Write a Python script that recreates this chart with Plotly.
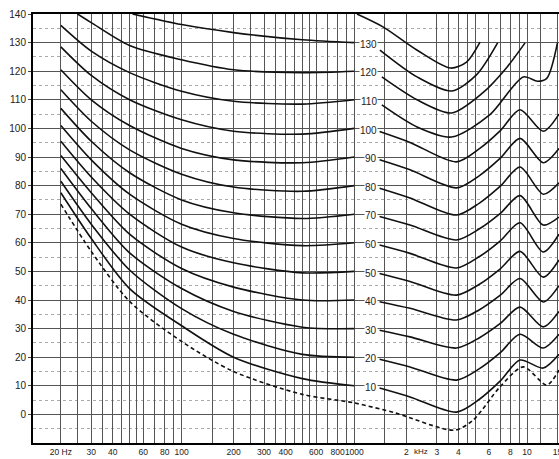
import math
import plotly.graph_objects as go

# ---------------- data ----------------
FREQ_LEFT = [20, 30, 50, 100, 200, 500, 1000]
LEFT = {
    110: [136, 127, 119.5, 113, 109.5, 108.5, 110],
    100: [128.5, 118.5, 110, 103, 99, 98, 100],
    90: [120.5, 110, 101, 93, 89, 88, 90],
    80: [113.5, 102.5, 92.5, 84, 79.5, 78, 80],
    70: [107, 95.5, 84.5, 75, 70.5, 68.5, 70],
    60: [101, 89, 77, 66.5, 61.5, 59, 60],
    50: [95.5, 83, 70, 58.5, 53, 49.5, 50],
    40: [90.5, 77.5, 63, 51, 44.5, 40, 40],
    30: [86, 72, 56.5, 44, 36, 30.5, 30],
    20: [81.5, 66.5, 50.5, 37, 28, 21, 20],
    10: [77.5, 61.5, 44, 31, 20, 12.5, 10],
}
FREQ_LEFT_120 = [25, 30, 50, 100, 200, 500, 1000]
LEFT_120 = [140, 137, 129, 124, 120.5, 119.5, 120]
FREQ_LEFT_130 = [52, 100, 200, 500, 1000]
LEFT_130 = [140, 136.3, 133.5, 131, 130]

FREQ_RIGHT = [1400, 2100, 3900, 5300, 7000, 9100, 12400, 15300]
RIGHT = {
    100: [98.9, 95.1, 88.3, 92.9, 99.2, 106.5, 99, 105],
    90: [89, 85.5, 79.2, 83.5, 89.6, 96.5, 88, 93],
    80: [79.1, 75.7, 69.7, 73.9, 79.8, 86.5, 77, 81],
    70: [69.2, 66.2, 61, 64.9, 70.3, 76.5, 66.2, 69],
    60: [59.2, 56.3, 51.2, 55.2, 60.7, 67, 56.8, 63],
    50: [49.3, 46.5, 41.7, 45.5, 50.9, 57, 48, 54],
    40: [39.4, 37.1, 33, 36.6, 41.7, 47.5, 39.3, 45],
    30: [29.4, 27.1, 23.2, 26.8, 31.8, 37.5, 30.6, 36],
    20: [19.3, 16.6, 12, 16, 21.6, 28, 23.2, 28],
    10: [9.2, 6.1, 0.8, 5.3, 11.7, 19, 16.2, 21],
}
FREQ_RIGHT_110 = [1443, 2307, 3657, 6070, 9500, 11500, 13000, 15000]
RIGHT_110 = [108.2, 100.5, 97, 104.7, 118, 116.5, 117.5, 130]
FREQ_RIGHT_120 = [1443, 2307, 3657, 5530, 7670, 9730]
RIGHT_120 = [118, 110, 105.4, 112.4, 121.5, 129.9]
FREQ_RIGHT_130 = [1406, 2307, 3657, 5090, 6750]
RIGHT_130 = [127.4, 118, 113.1, 118.7, 129.9]
FREQ_140 = [1036, 1465, 2300, 3600, 4460, 5340]
DB_140 = [140, 135.5, 127.4, 121.1, 123.2, 130.2]

FREQ_THRESH = [20, 30, 50, 100, 200, 500, 1000, 1730, 3800, 4870, 6965, 9500, 13000, 15300]
DB_THRESH = [73.5, 57, 39.5, 25.5, 15, 7, 4, 0.5, -5.5, -2, 9.6, 16.6, 10.3, 15.5]

PHON_LABELS = [130, 120, 110, 100, 90, 80, 70, 60, 50, 40, 30, 20, 10]

GRID_FREQS = [20, 25, 30, 35, 40, 45, 50, 55, 60, 70, 80, 90, 100,
              150, 200, 250, 300, 350, 400, 450, 500, 550, 600, 700, 800, 900, 1000,
              1500, 2000, 3000, 3500, 4000, 4500, 5000, 6000, 7000, 8000, 9000, 10000, 12000]
TICK_LABELS = {20: "20 Hz", 30: "30", 40: "40", 60: "60", 80: "80", 100: "100",
               200: "200", 300: "300", 400: "400", 600: "600", 800: "800", 1000: "1000",
               2000: "2", 3000: "3", 4000: "4", 6000: "6", 8000: "8", 10000: "10", 15000: "15"}

# ---------------- figure ----------------
fig = go.Figure()
LINE = dict(color="#111111", width=1.6, shape="spline", smoothing=0.8)


def add(xs, ys, dash=None):
    ln = dict(LINE)
    if dash:
        ln["dash"] = dash
    fig.add_trace(go.Scatter(x=xs, y=ys, mode="lines", line=ln,
                             hoverinfo="skip", showlegend=False))


for p, vals in LEFT.items():
    add(FREQ_LEFT, vals)
add(FREQ_LEFT_120, LEFT_120)
add(FREQ_LEFT_130, LEFT_130)
for p, vals in RIGHT.items():
    add(FREQ_RIGHT, vals)
add(FREQ_RIGHT_110, RIGHT_110)
add(FREQ_RIGHT_120, RIGHT_120)
add(FREQ_RIGHT_130, RIGHT_130)
add(FREQ_140, DB_140)
add(FREQ_THRESH, DB_THRESH, dash="4px,3px")

FONT = "Liberation Sans, Arial, sans-serif"
for p in PHON_LABELS:
    fig.add_annotation(x=math.log10(1370), y=p - 0.6, text=str(p), showarrow=False,
                       xanchor="right", yanchor="middle",
                       font=dict(family=FONT, size=10, color="#222"),
                       bgcolor="white", borderpad=0)

fig.add_annotation(x=math.log10(2430), y=0, yref="paper", yanchor="top", yshift=-2,
                   text="kHz", showarrow=False,
                   font=dict(family=FONT, size=8, color="#222"))

tickvals = sorted(set(GRID_FREQS) | set(TICK_LABELS))
ticktext = [TICK_LABELS.get(v, "") for v in tickvals]

fig.update_layout(
    width=559, height=459,
    margin=dict(l=33, r=0, t=14, b=16),
    paper_bgcolor="white", plot_bgcolor="white",
    font=dict(family=FONT, color="#222"),
    xaxis=dict(type="log", range=[math.log10(13.8), math.log10(15300)],
               tickvals=tickvals, ticktext=ticktext, ticks="", tickangle=0,
               tickfont=dict(size=8.5, color="#222"), automargin=False,
               ticklabeloverflow="allow",
               showgrid=True, gridcolor="#555", gridwidth=1,
               showline=True, linecolor="black", linewidth=2, mirror=True,
               zeroline=False),
    yaxis=dict(range=[-10, 140], tickvals=list(range(0, 141, 10)),
               ticks="outside", ticklen=3, tickcolor="#444", automargin=False,
               tickfont=dict(size=10, color="#222"),
               showgrid=True, gridcolor="#555", gridwidth=1,
               minor=dict(dtick=5, showgrid=True, gridcolor="#aaa", griddash="dot"),
               showline=True, linecolor="black", linewidth=2,
               zeroline=False),
)

fig.write_html("out.html", config={"displayModeBar": False},
               post_script="document.body.style.margin='0';document.body.style.overflow='hidden';")
